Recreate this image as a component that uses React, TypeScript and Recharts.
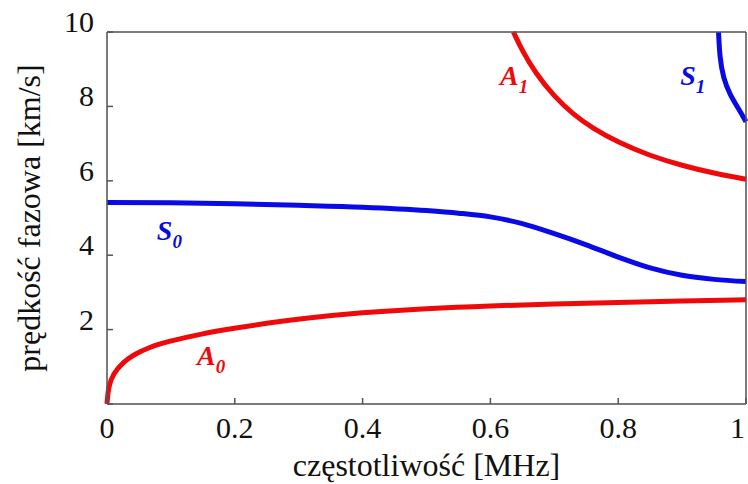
import { LineChart, Line, XAxis, YAxis, CartesianGrid, ReferenceDot } from 'recharts'

// A0 mode (red, lower)
const a0Freq = [0, 0.002, 0.01, 0.026, 0.041, 0.067, 0.093, 0.146, 0.2, 0.25, 0.3, 0.4, 0.5, 0.6, 0.7, 0.8, 0.9, 1.0]
const a0Vel = [0, 0.46, 0.83, 1.13, 1.32, 1.53, 1.67, 1.88, 2.04, 2.17, 2.29, 2.46, 2.57, 2.64, 2.69, 2.73, 2.77, 2.8]

// S0 mode (blue)
const s0Freq = [0, 0.1, 0.2, 0.3, 0.4, 0.5, 0.55, 0.6, 0.65, 0.7, 0.75, 0.8, 0.85, 0.9, 0.95, 1.0]
const s0Vel = [5.42, 5.41, 5.38, 5.34, 5.29, 5.2, 5.13, 5.03, 4.85, 4.58, 4.28, 3.95, 3.66, 3.46, 3.35, 3.29]

// A1 mode (red, upper)
const a1Freq = [0.636, 0.65, 0.67, 0.7, 0.73, 0.76, 0.8, 0.85, 0.9, 0.95, 1.0]
const a1Vel = [10, 9.49, 8.91, 8.26, 7.78, 7.41, 7.03, 6.67, 6.41, 6.2, 6.04]

// S1 mode (blue, upper right)
const s1Freq = [0.957, 0.959, 0.9645, 0.975, 0.988, 1.0]
const s1Vel = [10, 9.3, 8.76, 8.31, 7.95, 7.59]

const xTicks = [0, 0.2, 0.4, 0.6, 0.8, 1]
const yTicks = [0, 2, 4, 6, 8, 10]

const modeLabels = [
  { name: 'S', sub: '0', f: 0.078, v: 4.41, color: '#0a0ae6' },
  { name: 'A', sub: '0', f: 0.141, v: 1.05, color: '#ee0a0a' },
  { name: 'A', sub: '1', f: 0.615, v: 8.58, color: '#ee0a0a' },
  { name: 'S', sub: '1', f: 0.897, v: 8.58, color: '#0a0ae6' },
]

const toRows = (fs: number[], vs: number[]) => fs.map((f, i) => ({ f, v: vs[i] }))

const RED = '#ee0a0a'
const BLUE = '#0a0ae6'
const FRAME = '#555'
const FONT = '"Liberation Serif", "Times New Roman", serif'

const XTick = ({ x, y, payload }: any) => {
  const last = payload.value === 1
  return (
    <text x={last ? x + 1 : x} y={y} dy={34} textAnchor={last ? 'end' : 'middle'} fontSize={30} fontFamily={FONT} fill="#111">
      {payload.value}
    </text>
  )
}

const YTick = ({ x, y, payload }: any) =>
  payload.value === 0 ? (
    <g />
  ) : (
    <text x={x} y={y} dy={0} textAnchor="end" fontSize={30} fontFamily={FONT} fill="#111">
      {payload.value}
    </text>
  )

export default function App() {
  return (
    <div style={{ position: 'absolute', left: 0, top: 0, background: '#fff' }}>
      <LineChart width={748} height={484} margin={{ top: 32, right: 2, bottom: 0, left: 0 }}>
        <CartesianGrid stroke="#dcdcdc" strokeWidth={1} />
        <XAxis
          xAxisId="b"
          type="number"
          dataKey="f"
          domain={[0, 1]}
          ticks={xTicks}
          height={80}
          stroke={FRAME}
          strokeWidth={1.5}
          tickSize={-6}
          tickMargin={6}
          tick={<XTick />}
          label={{ value: 'częstotliwość [MHz]', position: 'insideBottom', offset: 8, fontSize: 32, fontFamily: FONT, fill: '#111' }}
        />
        <XAxis xAxisId="t" type="number" dataKey="f" domain={[0, 1]} ticks={xTicks} orientation="top" mirror stroke={FRAME} strokeWidth={1.5} tickSize={6} tick={false} />
        <YAxis
          yAxisId="l"
          type="number"
          domain={[0, 10]}
          ticks={yTicks}
          width={107}
          stroke={FRAME}
          strokeWidth={1.5}
          tickSize={-6}
          tickMargin={19}
          tick={<YTick />}
          label={{ value: 'prędkość fazowa [km/s]', angle: -90, position: 'insideLeft', offset: 29, fontSize: 32, fontFamily: FONT, fill: '#111', style: { textAnchor: 'middle' } }}
        />
        <YAxis yAxisId="r" type="number" domain={[0, 10]} ticks={yTicks} orientation="right" mirror stroke={FRAME} strokeWidth={1.5} tickSize={6} tick={false} />
        <Line xAxisId="b" yAxisId="l" data={toRows(a0Freq, a0Vel)} dataKey="v" type="basis" stroke={RED} strokeWidth={5} dot={false} isAnimationActive={false} />
        <Line xAxisId="b" yAxisId="l" data={toRows(s0Freq, s0Vel)} dataKey="v" type="monotone" stroke={BLUE} strokeWidth={5} dot={false} isAnimationActive={false} />
        <Line xAxisId="b" yAxisId="l" data={toRows(a1Freq, a1Vel)} dataKey="v" type="basis" stroke={RED} strokeWidth={5} dot={false} isAnimationActive={false} />
        <Line xAxisId="b" yAxisId="l" data={toRows(s1Freq, s1Vel)} dataKey="v" type="basis" stroke={BLUE} strokeWidth={5} dot={false} isAnimationActive={false} />
        {modeLabels.map((m, i) => (
          <ReferenceDot
            key={i}
            xAxisId="b"
            yAxisId="l"
            x={m.f}
            y={m.v}
            r={0}
            shape={(p: any) => (
              <text x={p.cx} y={p.cy} fontFamily={FONT} fontWeight="bold" fontStyle="italic" fill={m.color}>
                <tspan fontSize={28}>{m.name}</tspan>
                <tspan fontSize={19} dy={8}>{m.sub}</tspan>
              </text>
            )}
          />
        ))}
      </LineChart>
    </div>
  )
}
